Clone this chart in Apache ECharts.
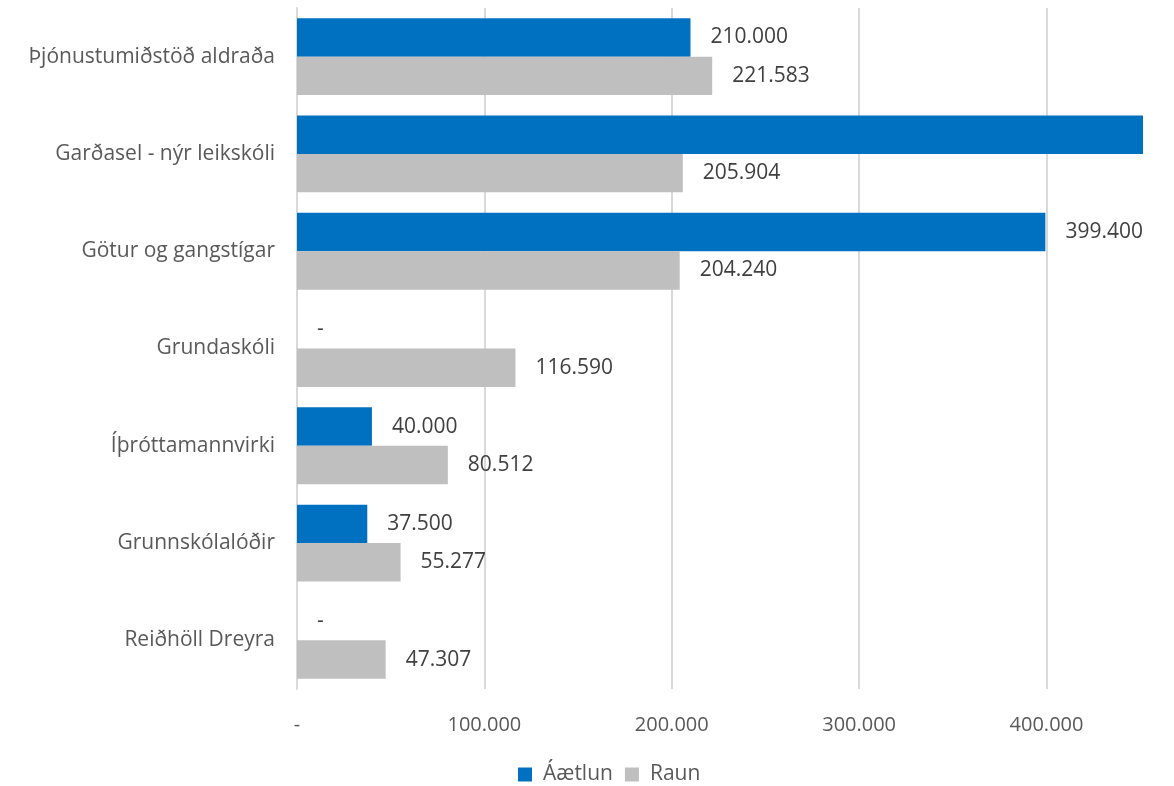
<!DOCTYPE html>
<html><head><meta charset="utf-8">
<script src="https://cdn.jsdelivr.net/npm/echarts@6/dist/echarts.min.js"></script>
<style>html,body{margin:0;padding:0;background:#fff}#c{width:1174px;height:786px}</style>
</head><body><div id="c"></div>
<script>
const categories = ["Þjónustumiðstöð aldraða","Garðasel - nýr leikskóli","Götur og gangstígar","Grundaskóli","Íþróttamannvirki","Grunnskólalóðir","Reiðhöll Dreyra"];
const aaetlun = [210000, 480000, 399400, 0, 40000, 37500, 0];
const raun = [221583, 205904, 204240, 116590, 80512, 55277, 47307];
const seriesNames = ["Áætlun","Raun"];
const axisMax = 451500;

const FONT = "'Open Sans', sans-serif";
function fmt(v){
  if (v === 0) return "-";
  return String(Math.round(v)).replace(/\B(?=(\d{3})+(?!\d))/g, ".");
}
const chart = echarts.init(document.getElementById('c'), null, {renderer:'canvas'});
const labelCfg = {
  show: true, position: 'right', distance: 20, color: '#404040',
  fontFamily: FONT, fontSize: 21, padding: [7,0,0,0],
  formatter: p => p.value > axisMax ? '' : fmt(p.value)
};
chart.setOption({
  animation: false,
  grid: {left: 297, right: 31, top: 8, bottom: 97, containLabel: false},
  legend: {
    top: 764, left: 518, itemWidth: 14, itemHeight: 14, itemGap: 12,
    icon: 'rect', padding: 0,
    textStyle: {color: '#595959', fontFamily: FONT, fontSize: 21, padding: [0,0,0,6]},
    data: seriesNames
  },
  xAxis: {
    type: 'value', min: 0, max: axisMax, interval: 100000,
    axisLine: {show: false}, axisTick: {show: false},
    axisLabel: {color: '#595959', fontFamily: FONT, fontSize: 20, margin: 26,
      showMaxLabel: false,
      formatter: v => (v % 100000 === 0) ? fmt(v) : ''},
    splitLine: {show: true, showMinLine: false, showMaxLine: false, lineStyle: {color: '#D9D9D9', width: 2}}
  },
  yAxis: {
    type: 'category', data: categories, inverse: true,
    axisLine: {show: true, lineStyle: {color: '#D9D9D9', width: 2}},
    axisTick: {show: false},
    axisLabel: {color: '#595959', fontFamily: FONT, fontSize: 21, margin: 22}
  },
  series: [
    {name: seriesNames[0], type: 'bar', data: aaetlun, barGap: '0%', barCategoryGap: '21%',
     itemStyle: {color: '#0070C0'}, label: labelCfg},
    {name: seriesNames[1], type: 'bar', data: raun, barGap: '0%', barCategoryGap: '21%',
     itemStyle: {color: '#BFBFBF'}, label: labelCfg}
  ]
});
</script></body></html>
